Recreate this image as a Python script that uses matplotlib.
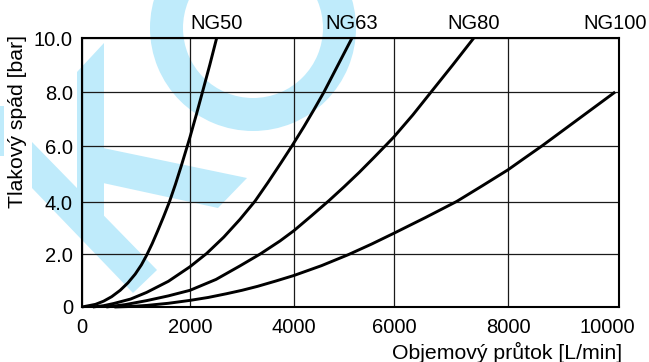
import numpy as np
import matplotlib
matplotlib.use("Agg")
import matplotlib.pyplot as plt
from matplotlib.patches import Polygon, Wedge
from matplotlib.transforms import ScaledTranslation

# ---------------- data ----------------
series_names = ["NG50", "NG63", "NG80", "NG100"]

ng50_flow = [0, 250, 400, 550, 707, 850, 985, 1100, 1196, 1300, 1400, 1510, 1618,
             1730, 1840, 1950, 2000, 2120, 2240, 2380, 2513]
ng50_dp = [0, 0.10, 0.22, 0.39, 0.63, 0.91, 1.24, 1.59, 1.95, 2.40, 2.88, 3.43, 4.0,
           4.63, 5.30, 6.0, 6.33, 7.15, 8.0, 9.0, 10.0]

ng63_flow = [200, 400, 584, 900, 1196, 1600, 2000, 2320, 2650, 2960, 3250, 3500,
             3750, 3960, 4200, 4400, 4600, 4880, 5160]
ng63_dp = [0, 0.05, 0.13, 0.30, 0.55, 0.97, 1.52, 2.02, 2.65, 3.33, 4.03, 4.70,
           5.40, 6.0, 6.72, 7.35, 8.0, 9.0, 10.0]

ng80_flow = [450, 800, 1196, 1600, 2000, 2500, 2960, 3350, 3730, 4000, 4350, 4700,
             5000, 5300, 5600, 5860, 6000, 6330, 6670, 7030, 7400]
ng80_dp = [0, 0.09, 0.24, 0.42, 0.63, 1.04, 1.55, 2.0, 2.5, 2.9, 3.47, 4.05,
           4.54, 5.05, 5.59, 6.07, 6.34, 7.15, 8.05, 9.0, 10.0]

ng100_flow = [600, 900, 1200, 1600, 2000, 2350, 2700, 3000, 3300, 3650, 4000, 4550,
              5080, 5550, 6000, 6550, 7100, 7550, 8000, 8300, 8610, 9270, 9930]
ng100_dp = [0, 0.02, 0.06, 0.14, 0.25, 0.36, 0.50, 0.63, 0.78, 0.98, 1.19, 1.56,
            1.97, 2.38, 2.80, 3.40, 4.02, 4.58, 5.15, 5.57, 6.0, 7.0, 8.0]

x_ticks = [0, 2000, 4000, 6000, 8000, 10000]
x_tick_labels = ["0", "2000", "4000", "6000", "8000", "10000"]
y_ticks = [0, 2, 4, 6, 8, 10]
y_tick_labels = ["0", "2.0", "4.0", "6.0", "8.0", "10.0"]

x_label = "Objemový průtok [L/min]"
y_label = "Tlakový spád [bar]"

# grid positions in the reference are slightly uneven (pixel offsets)
x_grid_px = [0, 108, 212, 312, 426, 537]
y_grid_px = [0, 53, 105, 161, 215, 269]

# ---------------- figure ----------------
plt.rcParams["font.family"] = ["Liberation Sans", "DejaVu Sans"]
W, H = 649, 362
fig = plt.figure(figsize=(W / 100, H / 100), dpi=100)
fig.patch.set_facecolor("white")

# background watermark (decorative)
wm = fig.add_axes([0, 0, 1, 1], zorder=0)
wm.set_xlim(0, W)
wm.set_ylim(H, 0)
wm.axis("off")
wm_color = "#BFEBFB"
wm.add_patch(Wedge((253, 28), 103, 0, 360, width=33, color=wm_color, lw=0))
wm.add_patch(Polygon([(77, 72), (104, 43), (104, 222), (77, 222)], closed=True, color=wm_color, lw=0))
wm.add_patch(Polygon([(32, 142), (157, 270), (133, 293), (32, 188)], closed=True, color=wm_color, lw=0))
wm.add_patch(Polygon([(103, 148), (247, 178), (218, 208), (103, 183)], closed=True, color=wm_color, lw=0))
wm.add_patch(Polygon([(0, 106), (4, 106), (4, 156), (0, 156)], closed=True, color=wm_color, lw=0))

ax = fig.add_axes([82 / W, 1 - 307 / H, 537 / W, 269 / H], zorder=1)
ax.set_facecolor("none")

xs = np.array(x_ticks, dtype=float)
xp = np.array(x_grid_px, dtype=float)
ys = np.array(y_ticks, dtype=float)
yp = np.array(y_grid_px, dtype=float)
ax.set_xscale("function", functions=(lambda v: np.interp(v, xs, xp), lambda v: np.interp(v, xp, xs)))
ax.set_yscale("function", functions=(lambda v: np.interp(v, ys, yp), lambda v: np.interp(v, yp, ys)))
ax.set_xlim(0, 10000)
ax.set_ylim(0, 10)

all_flow = [ng50_flow, ng63_flow, ng80_flow, ng100_flow]
all_dp = [ng50_dp, ng63_dp, ng80_dp, ng100_dp]
for name, fl, dp in zip(series_names, all_flow, all_dp):
    ax.plot(fl, dp, color="black", lw=2.1, solid_joinstyle="round", solid_capstyle="butt",
            clip_on=False, zorder=3)
    ax.text(fl[-1], 1.032, name, transform=ax.get_xaxis_transform(),
            ha="center", va="baseline", fontsize=14.5, color="black")

ax.set_xticks(x_ticks)
ax.set_xticklabels(x_tick_labels)
ax.set_yticks(y_ticks)
ax.set_yticklabels(y_tick_labels)
ax.tick_params(axis="both", length=0, labelsize=14.5, colors="black")
ax.tick_params(axis="x", pad=8)
ax.tick_params(axis="y", pad=6.5)
ax.grid(True, color="#1a1a1a", lw=0.9)
ax.set_axisbelow(True)
for sp in ax.spines.values():
    sp.set_linewidth(1.5)
    sp.set_color("black")

# last x tick label sits a bit left of the frame edge in the reference
lab = ax.get_xticklabels()[-1]
lab.set_transform(lab.get_transform() + ScaledTranslation(-0.12, 0, fig.dpi_scale_trans))

ax.set_xlabel(x_label, fontsize=15.3, ha="right", va="baseline")
ax.xaxis.set_label_coords((622 - 82) / 537, (307 - 359) / 269)
ax.set_ylabel(y_label, fontsize=15.3, va="baseline")
ax.yaxis.set_label_coords((23.5 - 82) / 537, (307 - 121.5) / 269)

fig.savefig("out.png", dpi=100, facecolor="white")
